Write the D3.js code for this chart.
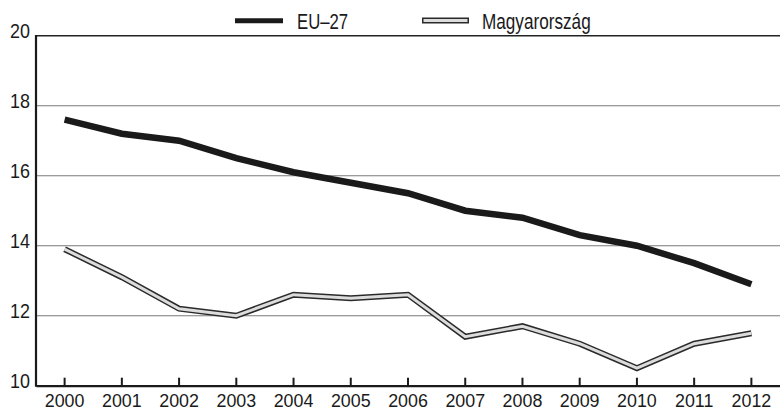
<!DOCTYPE html>
<html><head><meta charset="utf-8">
<script src="https://cdn.jsdelivr.net/npm/d3@7"></script>
<style>
html,body{margin:0;padding:0;background:#fff;}
svg{display:block;}
</style></head>
<body>
<svg id="c" width="780" height="411"></svg>
<script>
const years = ["2000","2001","2002","2003","2004","2005","2006","2007","2008","2009","2010","2011","2012"];
const eu27 = [17.6,17.2,17.0,16.5,16.1,15.8,15.5,15.0,14.8,14.3,14.0,13.5,12.9];
const hungary = [13.9,13.1,12.2,12.0,12.6,12.5,12.6,11.4,11.7,11.2,10.5,11.2,11.5];
const yTicks = [10,12,14,16,18,20];
const seriesNames = ["EU–27","Magyarország"];

(function(){
const svg = d3.select("#c");
const mLeft = 36, mRight = 780, mTop = 35.7, mBottom = 385.7;
const x = d3.scaleBand().domain(years).range([mLeft, mRight]);
const xc = d => x(d) + x.bandwidth()/2;
const y = d3.scaleLinear().domain([10,20]).range([mBottom, mTop]);
const tickFont = "'Liberation Sans', Arial, sans-serif";

// gridlines
svg.append("g").selectAll("line").data(yTicks.filter(v => v>10 && v<20)).join("line")
  .attr("x1", mLeft).attr("x2", mRight)
  .attr("y1", d => y(d)).attr("y2", d => y(d))
  .attr("stroke", "#7a7a7a").attr("stroke-width", 1.1);
// top line
svg.append("line").attr("x1", mLeft).attr("x2", mRight)
  .attr("y1", y(20)).attr("y2", y(20))
  .attr("stroke", "#222").attr("stroke-width", 1.5);

// y labels
svg.append("g").selectAll("text").data(yTicks).join("text")
  .attr("transform", d => `translate(30,${y(d) + 2.5}) scale(0.92,1)`)
  .attr("text-anchor", "end")
  .attr("font-family", tickFont).attr("font-size", 19.5).attr("fill", "#1a1a1a")
  .text(d => d);

// x axis
const xAxis = d3.axisBottom(x).tickSizeInner(-8).tickSizeOuter(0).tickPadding(14);
const gx = svg.append("g").attr("transform", `translate(0,${mBottom})`).call(xAxis);
gx.select(".domain").attr("stroke", "#1a1a1a").attr("stroke-width", 2.2);
gx.selectAll(".tick line").attr("stroke", "#1a1a1a").attr("stroke-width", 2);
gx.selectAll(".tick text").attr("font-family", tickFont).attr("font-size", 19).attr("fill", "#1a1a1a")
  .attr("dy", null).attr("y", null)
  .attr("transform", "translate(0,21.5) scale(0.94,1)");

// left axis line
svg.append("line").attr("x1", mLeft).attr("x2", mLeft).attr("y1", y(20)-0.8).attr("y2", mBottom+1)
  .attr("stroke", "#1a1a1a").attr("stroke-width", 2.2);

const line = d3.line().x((d,i) => xc(years[i])).y(d => y(d));

// EU-27
svg.append("path").datum(eu27).attr("d", line)
  .attr("fill","none").attr("stroke","#1a1a1a").attr("stroke-width",6.5);
// Hungary
svg.append("path").datum(hungary).attr("d", line)
  .attr("fill","none").attr("stroke","#2a2a2a").attr("stroke-width",6);
svg.append("path").datum(hungary).attr("d", line)
  .attr("fill","none").attr("stroke","#dcdcdc").attr("stroke-width",3);

// legend
const lg = svg.append("g");
lg.append("line").attr("x1",235).attr("x2",283).attr("y1",20.7).attr("y2",20.7)
  .attr("stroke","#1a1a1a").attr("stroke-width",5);
lg.append("text").attr("transform","translate(297,29) scale(0.76,1)").attr("font-family",tickFont)
  .attr("font-size",22).attr("fill","#1a1a1a").text(seriesNames[0]);
lg.append("line").attr("x1",422).attr("x2",469).attr("y1",20.5).attr("y2",20.5)
  .attr("stroke","#2a2a2a").attr("stroke-width",6);
lg.append("line").attr("x1",423.5).attr("x2",467.5).attr("y1",20.5).attr("y2",20.5)
  .attr("stroke","#dcdcdc").attr("stroke-width",3);
lg.append("text").attr("transform","translate(482,29) scale(0.78,1)").attr("font-family",tickFont)
  .attr("font-size",22).attr("fill","#1a1a1a").text(seriesNames[1]);
})();
</script>
</body></html>
